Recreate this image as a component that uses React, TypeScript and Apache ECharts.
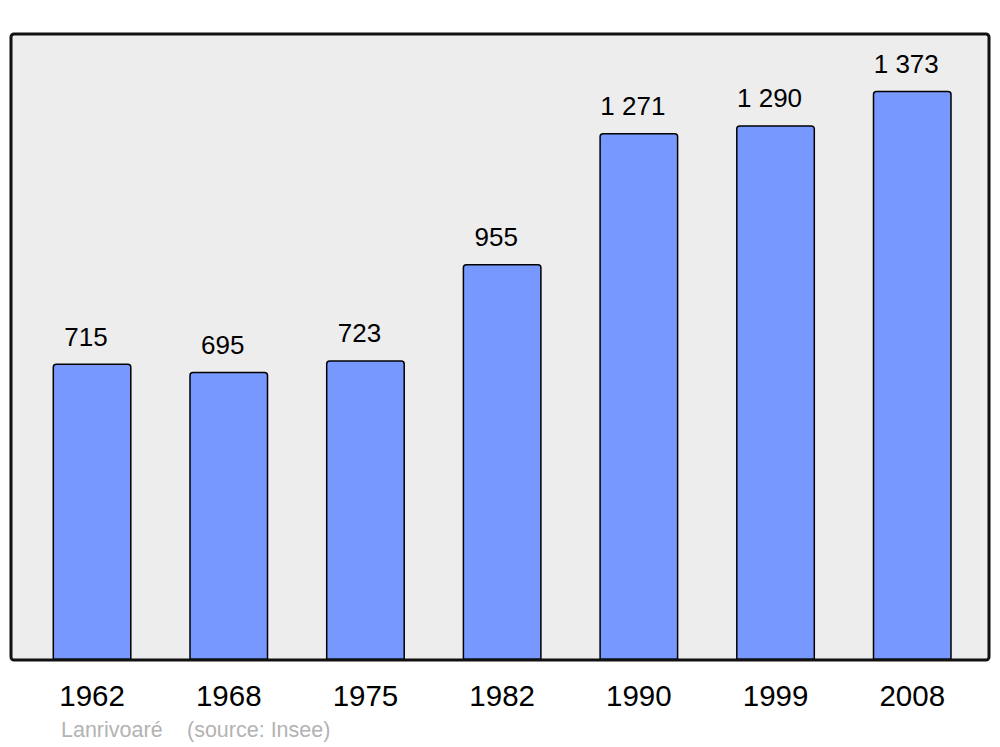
import React, { useEffect, useRef } from "react";
import * as echarts from "echarts";

const years = ["1962", "1968", "1975", "1982", "1990", "1999", "2008"];
const population = [715, 695, 723, 955, 1271, 1290, 1373];
const valueLabels = ["715", "695", "723", "955", "1 271", "1 290", "1 373"];
const commune = "Lanrivoaré";
const source = "(source: Insee)";

export default function App() {
  const ref = useRef<HTMLDivElement>(null);
  useEffect(() => {
    document.body.style.margin = "0";
    const chart = echarts.init(ref.current!, null, { renderer: "svg" });
    const font = "'Liberation Sans', Arial, sans-serif";
    chart.setOption({
      animation: false,
      backgroundColor: "#ffffff",
      grid: { left: 23.7, right: 19.4, top: 34, bottom: 87, containLabel: false },
      xAxis: {
        type: "category",
        data: years,
        boundaryGap: true,
        axisLine: { show: false },
        axisTick: { show: false },
        axisLabel: { fontSize: 29.5, color: "#000", fontFamily: font, margin: 20 },
      },
      yAxis: {
        type: "value",
        min: 0,
        max: 1510,
        show: false,
        splitLine: { show: false },
      },
      graphic: [
        {
          type: "rect",
          z: -10,
          shape: { x: 11, y: 34, width: 978, height: 626, r: 3 },
          style: { fill: "#ededed", stroke: "none" },
        },
        {
          type: "rect",
          z: 100,
          silent: true,
          shape: { x: 11, y: 34, width: 978, height: 626, r: 3 },
          style: { fill: "none", stroke: "#111111", lineWidth: 3 },
        },
        {
          type: "text",
          x: 61,
          y: 730,
          style: { text: commune, fontSize: 21.5, fill: "#b3b3b3", fontFamily: font, verticalAlign: "middle" },
        },
        {
          type: "text",
          x: 187,
          y: 730,
          style: { text: source, fontSize: 21.5, fill: "#b3b3b3", fontFamily: font, verticalAlign: "middle" },
        },
      ],
      series: [
        {
          type: "bar",
          data: population,
          barWidth: 79,
          itemStyle: {
            color: "#7799ff",
            borderColor: "#000",
            borderWidth: 1.5,
            borderRadius: [3, 3, 0, 0],
          },
          label: {
            show: true,
            position: "top",
            distance: 14,
            offset: [-6, 0],
            fontSize: 26,
            color: "#000",
            fontFamily: font,
            formatter: (p: any) => valueLabels[p.dataIndex],
          },
        },
      ],
    });
    return () => chart.dispose();
  }, []);
  return <div ref={ref} style={{ width: 1000, height: 747 }} />;
}
